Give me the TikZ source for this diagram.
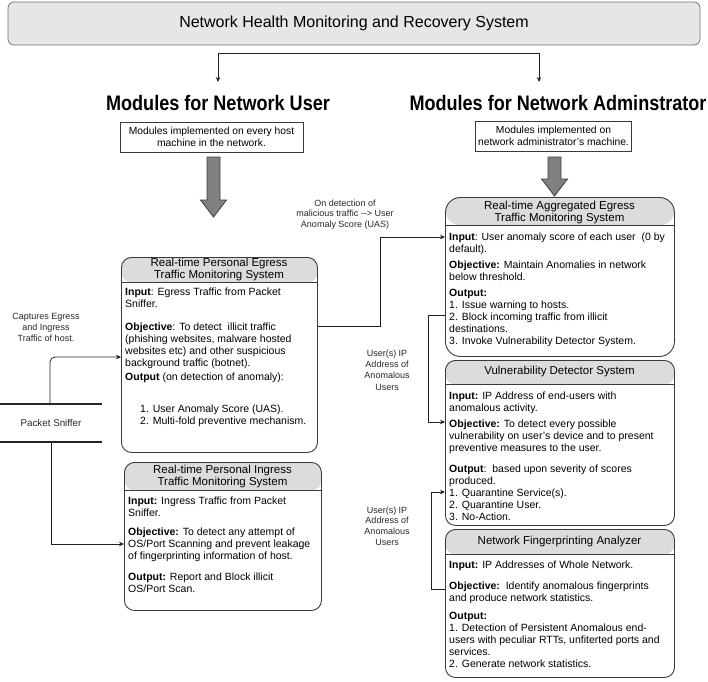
\documentclass[tikz,border=0pt]{standalone}
\usepackage{fontspec}
\usepackage{graphicx}
\setmainfont{Liberation Sans}
\usetikzlibrary{arrows.meta,calc}
\definecolor{hdr}{HTML}{DCDCDC}
\definecolor{ttl}{HTML}{E6E6E6}
\definecolor{edge}{HTML}{3A3A3A}
\definecolor{bigarrow}{HTML}{808080}
\definecolor{lnk}{HTML}{222222}
\tikzset{
  modbox/.style 2 args={draw=edge, line width=0.9pt, rounded corners=#1, inner sep=0pt, anchor=north west,
    path picture={\fill[hdr] (path picture bounding box.north west) rectangle ([yshift=-#2]path picture bounding box.north east);
      \draw[edge,line width=0.9pt] ([yshift=-#2]path picture bounding box.north west) -- ([yshift=-#2]path picture bounding box.north east);}},
  hdrtext/.style={align=center, inner sep=0pt, font=\fontsize{11.5}{12}\selectfont},
  bodytext/.style={align=left, inner sep=0pt, anchor=north west, font=\fontsize{10.5}{12}\selectfont},
  smallbox/.style={draw=edge, line width=0.8pt, align=center, inner sep=0pt, font=\fontsize{10.3}{12}\selectfont},
  lbl/.style={align=center, inner sep=0pt, text=black!85},
  arr/.style={draw=lnk, line width=0.8pt, -{Stealth[length=5pt,width=4.5pt]}},
  lnkline/.style={draw=lnk, line width=0.8pt},
  fatarrow/.style={fill=bigarrow, draw=black!75, line width=0.8pt},
  heading/.style={inner sep=0pt, font=\fontsize{21}{24}\selectfont\bfseries},
}
\begin{document}
\begin{tikzpicture}[x=1pt,y=-1pt]
\useasboundingbox (0,0) rectangle (708,681);

% title
\node[draw=black!55, line width=0.8pt, fill=ttl, rounded corners=6pt, minimum width=692pt, minimum height=43pt,
  font=\fontsize{16}{19}\selectfont] (title) at (354,23.5) {Network Health Monitoring and Recovery System};

% split arrows
\coordinate (tl) at (218,53);
\coordinate (tr) at (539,53);
\coordinate (tla) at (218,82);
\coordinate (tra) at (539,82);
\draw[lnkline] (tl) -- (tr);
\draw[arr] (tl) -- (tla);
\draw[arr] (tr) -- (tra);

% headings
\node[heading] (userH) at (218,103) {\scalebox{0.86}[1]{Modules for Network User}};
\node[heading] (adminH) at (558,103) {\scalebox{0.86}[1]{Modules for Network Adminstrator}};

% small boxes
\node[smallbox, minimum width=183pt, minimum height=30pt] (userM) at (211.5,137) {Modules implemented on every host\\machine in the network.};
\node[smallbox, minimum width=156pt, minimum height=30pt] (adminM) at (553.5,136) {Modules implemented on\\network administrator's machine.};

% fat arrows
\draw[fatarrow] (207,157) -- (220,157) -- (220,200) -- (226.5,200) -- (213.5,217) -- (200.5,200) -- (207,200) -- cycle;
\draw[fatarrow] (548,157) -- (561,157) -- (561,179) -- (567.5,179) -- (554.5,196) -- (541.5,179) -- (548,179) -- cycle;

% boxes
\node[modbox={10pt}{25pt}, minimum width=196pt, minimum height=195pt] (egress) at (121,257) {};
\node[modbox={10pt}{28pt}, minimum width=197pt, minimum height=148pt] (ingress) at (124,462) {};
\node[modbox={15pt}{28pt}, minimum width=229pt, minimum height=159pt] (agg) at (445,197) {};
\node[modbox={10pt}{24pt}, minimum width=229pt, minimum height=165pt] (vuln) at (445,360) {};
\node[modbox={10pt}{25pt}, minimum width=229pt, minimum height=148pt] (finger) at (445,529) {};

% header texts
\node[hdrtext] (egressH) at (219,270) {Real-time Personal Egress\\Traffic Monitoring System};
\node[hdrtext] (ingressH) at (222.5,476.5) {Real-time Personal Ingress\\Traffic Monitoring System};
\node[hdrtext] (aggH) at (559.5,213) {Real-time Aggregated Egress\\Traffic Monitoring System};
\node[hdrtext] (vulnH) at (559.5,372) {Vulnerability Detector System};
\node[hdrtext] (fingerH) at (559.5,542) {Network Fingerprinting Analyzer};

% body texts
\node[bodytext] (egressB) at (125,288) {\textbf{Input}: Egress Traffic from Packet\\
Sniffer.\\[11pt]
\textbf{Objective}: To detect\ \ illicit traffic\\
(phishing websites, malware hosted\\
websites etc) and other suspicious\\
background traffic (botnet).\\[2pt]
\textbf{Output} (on detection of anomaly):\\[20pt]
\hspace*{15pt}1. User Anomaly Score (UAS).\\
\hspace*{15pt}2. Multi-fold preventive mechanism.};

\node[bodytext] (ingressB) at (128,497) {\textbf{Input:} Ingress Traffic from Packet\\
Sniffer.\\[7pt]
\textbf{Objective:} To detect any attempt of\\
OS/Port Scanning and prevent leakage\\
of fingerprinting information of host.\\[9pt]
\textbf{Output:} Report and Block illicit\\
OS/Port Scan.};

\node[bodytext] (aggB) at (449,233) {\textbf{Input}: User anomaly score of each user\ \ (0 by\\
default).\\[4pt]
\textbf{Objective:} Maintain Anomalies in network\\
below threshold.\\[4pt]
\textbf{Output:}\\
1. Issue warning to hosts.\\
2. Block incoming traffic from illicit\\
destinations.\\
3. Invoke Vulnerability Detector System.};

\node[bodytext] (vulnB) at (449,392) {\textbf{Input:} IP Address of end-users with\\
anomalous activity.\\[4pt]
\textbf{Objective:} To detect every possible\\
vulnerability on user's device and to present\\
preventive measures to the user.\\[9pt]
\textbf{Output}:\ \ based upon severity of scores\\
produced.\\
1. Quarantine Service(s).\\
2. Quarantine User.\\
3. No-Action.};

\node[bodytext] (fingerB) at (449,561) {\textbf{Input:} IP Addresses of Whole Network.\\[9pt]
\textbf{Objective:}\ \ Identify anomalous fingerprints\\
and produce network statistics.\\[6pt]
\textbf{Output:}\\
1. Detection of Persistent Anomalous end-\\
users with peculiar RTTs, unfiterted ports and\\
services.\\
2. Generate network statistics.};

% packet sniffer
\draw[draw=black!85, line width=1.3pt] (0,404) -- (102,404);
\draw[draw=black!85, line width=1.3pt] (0,442) -- (102,442);
\node[lbl, font=\fontsize{9.8}{12}\selectfont] (ps) at (51,423) {Packet Sniffer};

% labels
\node[lbl, font=\fontsize{9}{11}\selectfont] (cap) at (46,327) {Captures Egress\\and Ingress\\Traffic of host.};
\node[lbl, font=\fontsize{9}{10.5}\selectfont] (onDet) at (345,214.5) {On detection of\\malicious traffic -{}-\textgreater{} User\\Anomaly Score (UAS)};
\node[lbl, font=\fontsize{9}{11.3}\selectfont] (usr1) at (387,370) {User(s) IP\\Address of\\Anomalous\\Users};
\node[lbl, font=\fontsize{9}{10.8}\selectfont] (usr2) at (387,526) {User(s) IP\\Address of\\Anomalous\\Users};

% connectors
\coordinate (psTop) at (50,404);
\coordinate (psBot) at (51,442);
\coordinate (c357) at (0,357);
\coordinate (c544) at (0,544);
\draw[arr, rounded corners=5pt] (psTop) |- (egress.west |- c357);
\draw[arr] (psBot) |- (ingress.west |- c544);

\coordinate (k1) at (380,326);
\coordinate (k2) at (380,237);
\draw[arr] (egress.east |- k1) -- (k1) -- (k2) -- (agg.west |- k2);

\coordinate (m1) at (428,315);
\coordinate (m2) at (428,422);
\draw[arr] (agg.west |- m1) -- (m1) -- (m2) -- (vuln.west |- m2);

\coordinate (n1) at (431,589);
\coordinate (n2) at (431,492);
\draw[arr] (finger.west |- n1) -- (n1) -- (n2) -- (vuln.west |- n2);
\end{tikzpicture}
\end{document}
